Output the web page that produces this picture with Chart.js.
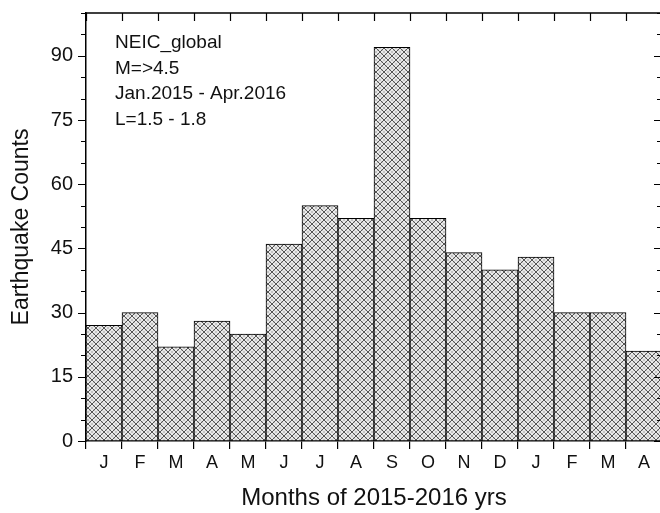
<!DOCTYPE html>
<html>
<head>
<meta charset="utf-8">
<script src="https://cdn.jsdelivr.net/npm/chart.js@4.4.1/dist/chart.umd.min.js"></script>
<style>
  html, body { margin:0; padding:0; overflow:hidden; background:#fff; }
  #wrap { width:663px; height:513px; position:relative; }
</style>
</head>
<body>
<div id="wrap"><canvas id="c"></canvas></div>
<script>
const months = ['J','F','M','A','M','J','J','A','S','O','N','D','J','F','M','A'];
const counts = [27, 30, 22, 28, 25, 46, 55, 52, 92, 52, 44, 40, 43, 30, 30, 21];
const yMin = 0;
const yMax = 100;
const majorStep = 15;
const minorStep = 5;
const xTitle = 'Months of 2015-2016 yrs';
const yTitle = 'Earthquake Counts';
const noteLines = ['NEIC_global', 'M=>4.5', 'Jan.2015 - Apr.2016', 'L=1.5 - 1.8'];

function makeHatch() {
  const s = 8;
  const c = document.createElement('canvas');
  c.width = s; c.height = s;
  const g = c.getContext('2d');
  g.fillStyle = '#ebebeb';
  g.fillRect(0, 0, s, s);
  g.strokeStyle = '#c4c4c4';
  g.lineWidth = 1;
  g.beginPath();
  g.moveTo(-1, s / 2 - 1); g.lineTo(s / 2 + 1, s + 1);
  g.moveTo(s / 2 - 1, -1); g.lineTo(s + 1, s / 2 + 1);
  g.moveTo(-1, s / 2 + 1); g.lineTo(s / 2 + 1, -1);
  g.moveTo(s / 2 - 1, s + 1); g.lineTo(s + 1, s / 2 - 1);
  g.stroke();
  g.strokeStyle = '#555';
  g.beginPath();
  g.moveTo(-1, -1); g.lineTo(s + 1, s + 1);
  g.moveTo(-1, s + 1); g.lineTo(s + 1, -1);
  g.stroke();
  return g.createPattern(c, 'repeat');
}

const frame = {
  id: 'frame',
  afterDraw(chart) {
    const { ctx, chartArea: a, scales: { x, y } } = chart;
    ctx.save();
    ctx.strokeStyle = '#000';
    ctx.lineWidth = 1.5;
    ctx.beginPath();
    ctx.moveTo(a.left, a.top);
    ctx.lineTo(a.right, a.top);
    ctx.lineTo(a.right, a.bottom);
    ctx.stroke();
    ctx.lineWidth = 1.2;
    ctx.beginPath();
    for (let v = yMin; v <= yMax; v += minorStep) {
      const py = Math.round(y.getPixelForValue(v)) + 0.5;
      const len = (v % majorStep === 0) ? 8 : 5;
      ctx.moveTo(a.left - len, py); ctx.lineTo(a.left, py);
      ctx.moveTo(a.right, py); ctx.lineTo(a.right - len, py);
    }
    const half = (x.getPixelForValue(1) - x.getPixelForValue(0)) / 2;
    for (let i = 0; i <= months.length; i++) {
      const px = Math.round(x.getPixelForValue(0) - half + 2 * half * i) + 0.5;
      ctx.moveTo(px, a.top); ctx.lineTo(px, a.top + 8);
    }
    ctx.stroke();
    ctx.fillStyle = '#111';
    ctx.font = '19px "Liberation Sans", Arial, sans-serif';
    ctx.textAlign = 'left';
    ctx.textBaseline = 'alphabetic';
    noteLines.forEach((t, i) => {
      ctx.fillText(t, a.left + 29, a.top + 35 + i * 25.5);
    });
    ctx.restore();
  }
};

new Chart(document.getElementById('c'), {
  type: 'bar',
  data: {
    labels: months,
    datasets: [{
      data: counts,
      backgroundColor: makeHatch(),
      borderColor: '#000',
      borderWidth: 1,
      borderSkipped: false,
      categoryPercentage: 1,
      barPercentage: 1
    }]
  },
  options: {
    responsive: true,
    maintainAspectRatio: false,
    devicePixelRatio: 1,
    animation: false,
    layout: { padding: { top: 13, right: 1, left: 0, bottom: 0 } },
    plugins: { legend: { display: false }, tooltip: { enabled: false } },
    scales: {
      x: {
        offset: true,
        grid: { offset: true, drawOnChartArea: false, drawTicks: true, tickLength: 8, color: '#000', lineWidth: 1.2 },
        border: { display: true, color: '#000', width: 1.5 },
        ticks: { color: '#111', font: { family: '"Liberation Sans", Arial, sans-serif', size: 18 }, padding: 3, maxRotation: 0, autoSkip: false },
        title: { display: true, text: xTitle, color: '#111', font: { family: '"Liberation Sans", Arial, sans-serif', size: 24 }, padding: { top: 0, bottom: 0 } },
        afterFit(s) { s.height = 72; s.paddingLeft = 0; s.paddingRight = 0; }
      },
      y: {
        min: yMin,
        max: yMax,
        grid: { display: false, drawTicks: false },
        border: { display: true, color: '#000', width: 1.5 },
        ticks: {
          stepSize: minorStep,
          autoSkip: false,
          padding: 13,
          color: '#111',
          font: { family: '"Liberation Sans", Arial, sans-serif', size: 20 },
          callback: (v) => (v % majorStep === 0 ? String(v) : '')
        },
        title: { display: true, text: yTitle, color: '#111', font: { family: '"Liberation Sans", Arial, sans-serif', size: 23 }, padding: { top: 8, bottom: 0 } },
        afterFit(s) { s.width = 86; s.paddingTop = 0; s.paddingBottom = 0; }
      }
    }
  },
  plugins: [frame]
});
</script>
</body>
</html>
